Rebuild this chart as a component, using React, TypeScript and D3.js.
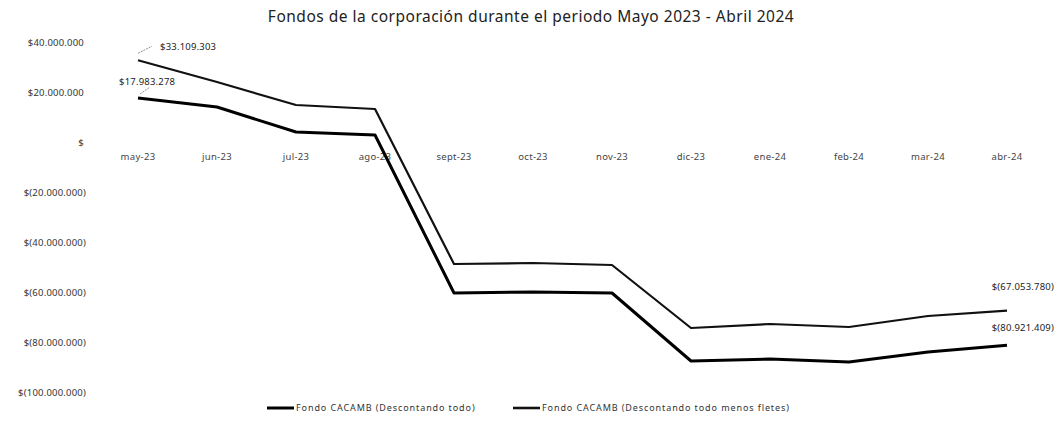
import * as d3 from "d3";
import React from "react";

const months = ["may-23", "jun-23", "jul-23", "ago-23", "sept-23", "oct-23", "nov-23", "dic-23", "ene-24", "feb-24", "mar-24", "abr-24"];
// Fondo CACAMB (Descontando todo)
const todo = [17983278, 14400000, 4400000, 3200000, -60000000, -59600000, -60000000, -87200000, -86400000, -87600000, -83600000, -80921409];
// Fondo CACAMB (Descontando todo menos fletes)
const menosFletes = [33109303, 24400000, 15200000, 13600000, -48400000, -48000000, -48800000, -74000000, -72400000, -73600000, -69200000, -67053780];
const yTicks = [40000000, 20000000, 0, -20000000, -40000000, -60000000, -80000000, -100000000];
const seriesNames = ["Fondo CACAMB (Descontando todo)", "Fondo CACAMB (Descontando todo menos fletes)"];

const W = 1061;
const H = 430;

const fmtNum = (v: number) => d3.format(",.0f")(Math.abs(v)).replace(/,/g, ".");
const fmtMoney = (v: number) => {
  if (v === 0) return "$";
  return v < 0 ? "$(" + fmtNum(v) + ")" : "$" + fmtNum(v);
};

export default function App() {
  const x = d3.scalePoint().domain(months).range([138, 1007]);
  const y = d3.scaleLinear().domain([-100000000, 40000000]).range([393, 43]);

  const line = d3
    .line<number>()
    .x((d, i) => x(months[i]) as number)
    .y((d) => y(d));

  const font = "'Noto Sans', 'Open Sans', sans-serif";
  const last = months.length - 1;

  return (
    <svg width={W} height={H} style={{ position: "absolute", left: 0, top: 0, background: "#fff" }} fontFamily={font}>
      <text x={531} y={22} textAnchor="middle" fontSize={15.5} letterSpacing={0.5} fill="#222">
        Fondos de la corporación durante el periodo Mayo 2023 - Abril 2024
      </text>

      {yTicks.map((t) => (
        <text key={t} x={t < 0 ? 86 : 84} y={y(t)} dy="0.35em" textAnchor="end" fontSize={9.5} letterSpacing={0.2} fill="#333">
          {fmtMoney(t)}
        </text>
      ))}

      {months.map((m) => (
        <text key={m} x={x(m)} y={160} textAnchor="middle" fontSize={9.5} letterSpacing={0.3} fill="#444">
          {m}
        </text>
      ))}

      <path d={line(menosFletes) || ""} fill="none" stroke="#111" strokeWidth={2.2} strokeLinejoin="round" />
      <path d={line(todo) || ""} fill="none" stroke="#000" strokeWidth={3} strokeLinejoin="round" />

      {/* data labels */}
      <line x1={x(months[0])} y1={y(menosFletes[0]) - 7} x2={152} y2={y(menosFletes[0]) - 14} stroke="#777" strokeWidth={0.8} strokeDasharray="2,1" />
      <text x={160} y={y(menosFletes[0]) - 14} dy="0.35em" fontSize={9.5} letterSpacing={0.2} fill="#222">
        {fmtMoney(menosFletes[0])}
      </text>
      <line x1={x(months[0]) + 2} y1={y(todo[0]) - 4} x2={150} y2={y(todo[0]) - 11} stroke="#777" strokeWidth={0.8} strokeDasharray="2,1" />
      <text x={119} y={y(todo[0]) - 16} dy="0.35em" fontSize={9.5} letterSpacing={0.2} fill="#222">
        {fmtMoney(todo[0])}
      </text>
      <text x={1054} y={y(menosFletes[last]) - 24} dy="0.35em" textAnchor="end" fontSize={9.5} letterSpacing={0.2} fill="#222">
        {fmtMoney(menosFletes[last])}
      </text>
      <text x={1054} y={y(todo[last]) - 18} dy="0.35em" textAnchor="end" fontSize={9.5} letterSpacing={0.2} fill="#222">
        {fmtMoney(todo[last])}
      </text>

      {/* legend */}
      <g transform="translate(267,408)">
        <line x1={0} x2={27} y1={0} y2={0} stroke="#000" strokeWidth={3} />
        <text x={29} y={0} dy="0.35em" fontSize={9} letterSpacing={0.9} fill="#333">
          {seriesNames[0]}
        </text>
      </g>
      <g transform="translate(513,408)">
        <line x1={0} x2={27} y1={0} y2={0} stroke="#111" strokeWidth={2.6} />
        <text x={29} y={0} dy="0.35em" fontSize={9} letterSpacing={0.9} fill="#333">
          {seriesNames[1]}
        </text>
      </g>
    </svg>
  );
}
